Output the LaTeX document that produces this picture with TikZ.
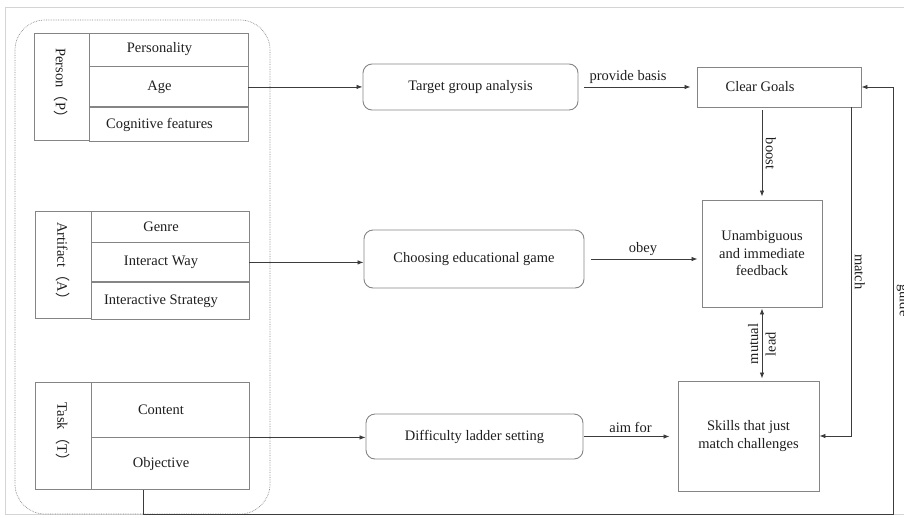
\documentclass[tikz,border=0pt]{standalone}
\usepackage{fontspec}
\setmainfont{Liberation Serif}
\newfontfamily\cjk{Noto Sans CJK SC}
\usetikzlibrary{positioning,arrows.meta,calc}

\definecolor{linegray}{HTML}{858585}
\definecolor{arrowgray}{HTML}{3C3C3C}
\definecolor{framegray}{HTML}{D4D4D4}
\definecolor{textgray}{HTML}{1E1E1E}

\begin{document}
\begin{tikzpicture}[
    x=1pt, y=-1pt,
    font=\fontsize{14.5}{17.5}\selectfont,
    text=textgray,
    cell/.style={draw=linegray, line width=0.9pt, inner sep=0pt},
    item/.style={cell, execute at end node={\hspace*{18pt}}},
    proc/.style={draw=linegray, line width=0.9pt, rounded corners=9pt},
    goal/.style={draw=linegray, line width=0.9pt},
    arrow/.style={-{Latex[length=6pt,width=4.5pt]}, draw=arrowgray, line width=0.8pt},
    dbl/.style={{Latex[length=6pt,width=4.5pt]}-{Latex[length=6pt,width=4.5pt]}, draw=arrowgray, line width=0.8pt}
]
\useasboundingbox (0,0) rectangle (904,517);
\draw[framegray, line width=0.8pt] (5,7) rectangle (910,514);
\draw[linegray, densely dotted, line width=0.7pt, rounded corners=30pt] (15,20) rectangle (270,514);

% person
\node[item, minimum width=159, minimum height=33] (pers) at (168.5,49.5) {Personality};
\node[item, minimum width=159, minimum height=40, below=0pt of pers] (age) {Age};
\node[item, minimum width=159, minimum height=34, below=0pt of age] (cogn) {Cognitive features};
\node[cell, rotate=-90, minimum width=107, minimum height=55] (person) at (61.5,86.5) {Person{\cjk（}P{\cjk）}};

% artifact
\node[item, minimum width=158, minimum height=31] (genre) at (170,226.5) {Genre};
\node[item, minimum width=158, minimum height=39, below=0pt of genre] (iway) {Interact Way};
\node[item, minimum width=158, minimum height=37, below=0pt of iway] (istrat) {Interactive Strategy};
\node[cell, rotate=-90, minimum width=107, minimum height=56] (artifact) at (63,264.5) {Artifact{\cjk（}A{\cjk）}};

% task
\node[item, minimum width=158, minimum height=55] (content) at (170,409.5) {Content};
\node[item, minimum width=158, minimum height=52, below=0pt of content] (objective) {Objective};
\node[cell, rotate=-90, minimum width=107, minimum height=56] (task) at (63,435.5) {Task{\cjk（}T{\cjk）}};

% middle column
\node[proc, minimum width=215, minimum height=46] (target) at (470.5,87) {Target group analysis};
\node[proc, minimum width=220, minimum height=58] (choose) at (474,259) {Choosing educational game};
\node[proc, minimum width=217, minimum height=45] (ladder) at (474.5,436.5) {Difficulty ladder setting};

% right column
\node[goal, minimum width=164, minimum height=40, execute at end node={\hspace*{38pt}}] (clear) at (779,87) {Clear Goals};
\node[goal, minimum width=120, minimum height=107, align=center] (feedback) at (762,253.5) {Unambiguous\\and immediate\\feedback};
\node[goal, minimum width=141, minimum height=110, align=center] (skills) at (748.5,436) {Skills that just\\match challenges};
\coordinate (guidecorner) at (893,514);

\draw[arrow] (age.east) -- (age.east -| target.west);
\draw[arrow] (iway.east) -- (iway.east -| choose.west);
\draw[arrow] (content.south east) -- (content.south east -| ladder.west);

\draw[arrow, shorten <=6pt, shorten >=6pt] (target.east) -- node[above, pos=0.42]{provide basis} (clear.west);
\draw[arrow, shorten <=7pt, shorten >=4pt] (choose.east) -- node[above]{obey} (choose.east -| feedback.west);
\draw[arrow, shorten <=1pt, shorten >=8pt] (ladder.east) -- node[above]{aim for} (ladder.east -| skills.west);

\draw[arrow, shorten <=3pt, shorten >=3pt] (clear.south -| feedback.north) -- node[midway, rotate=-90, anchor=south]{boost} (feedback.north);
\draw[dbl, shorten <=1pt, shorten >=2pt] (feedback.south) -- node[midway, rotate=90, align=center]{mutual\\lead} (feedback.south |- skills.north);
\draw[arrow] ([xshift=72]clear.south) |- node[pos=0.25, rotate=-90, anchor=south]{match} (skills.east);
\draw[arrow] ([xshift=-27]objective.south) |- (guidecorner) |- node[pos=0.25, rotate=-90, anchor=south]{guide} (clear.east);
\end{tikzpicture}
\end{document}
